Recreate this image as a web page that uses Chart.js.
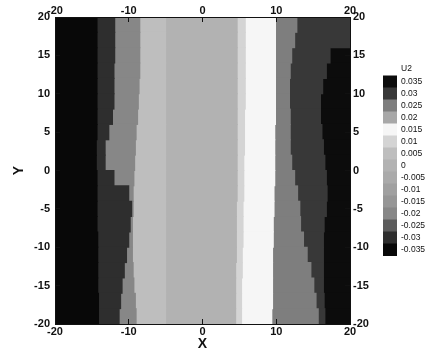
<!DOCTYPE html>
<html>
<head>
<meta charset="utf-8">
<title>U2 contour</title>
<script src="https://cdn.jsdelivr.net/npm/chart.js@4.4.1/dist/chart.umd.min.js"></script>
<style>
  html, body { margin: 0; padding: 0; background: #fff; }
  #wrap { position: relative; width: 433px; height: 356px; overflow: hidden; }
  #plot { position: absolute; left: 0; top: 0; }
  #bar { position: absolute; left: 376px; top: 40px; }
</style>
</head>
<body>
<div id="wrap">
  <canvas id="plot" width="433" height="356"></canvas>
  <canvas id="bar" width="57" height="228"></canvas>
</div>
<script>
// contour levels of the legend, bottom to top
const levels = [-0.035, -0.03, -0.025, -0.02, -0.015, -0.01, -0.005, 0, 0.005, 0.01, 0.015, 0.02, 0.025, 0.03, 0.035];
const levelLabels = ['-0.035', '-0.03', '-0.025', '-0.02', '-0.015', '-0.01', '-0.005', '0', '0.005', '0.01', '0.015', '0.02', '0.025', '0.03', '0.035'];
const levelColors = ['#080808', '#2e2e2e', '#5c5c5c', '#878787', '#969696', '#a0a0a0', '#aaaaaa', '#b2b2b2', '#bebebe', '#d4d4d4', '#f6f6f6', '#a8a8a8', '#7e7e7e', '#383838', '#0c0c0c'];

const xTicks = [-20, -10, 0, 10, 20];
const yTicks = [-20, -15, -10, -5, 0, 5, 10, 15, 20];

// the field is read as horizontal strips, one every 2 units of Y
const rowY = [19, 17, 15, 13, 11, 9, 7, 5, 3, 1, -1, -3, -5, -7, -9, -11, -13, -15, -17, -19];
// U2 level of each band, from left to right
const bandLevels = [-0.035, -0.03, -0.02, 0.005, 0, 0.01, 0.015, 0.025, 0.03, 0.035];
// X where one band ends and the next one starts, one list per strip
const bandEdges = [
  [-14.3, -11.9, -8.5, -5.0, 4.7, 5.8, 9.9, 12.8, 20.0],
  [-14.3, -11.9, -8.5, -5.0, 4.7, 5.8, 9.9, 12.5, 20.0],
  [-14.3, -11.9, -8.5, -5.0, 4.7, 5.8, 9.9, 12.1, 17.3],
  [-14.3, -12.0, -8.5, -5.0, 4.7, 5.8, 9.9, 11.9, 16.8],
  [-14.3, -12.0, -8.6, -5.0, 4.7, 5.8, 9.9, 11.8, 16.3],
  [-14.3, -12.0, -8.7, -5.0, 4.7, 5.8, 9.9, 11.8, 16.0],
  [-14.3, -12.2, -8.8, -5.0, 4.7, 5.7, 9.9, 11.9, 16.0],
  [-14.3, -12.7, -9.0, -5.0, 4.7, 5.7, 9.8, 11.9, 16.2],
  [-14.4, -13.2, -9.1, -5.0, 4.7, 5.7, 9.8, 11.9, 16.4],
  [-14.4, -13.2, -9.2, -5.0, 4.7, 5.6, 9.8, 12.1, 16.6],
  [-14.3, -12.0, -9.3, -5.0, 4.7, 5.6, 9.8, 12.5, 16.8],
  [-14.3, -10.0, -9.4, -5.0, 4.7, 5.6, 9.7, 12.9, 16.9],
  [-14.3, -9.6, -9.4, -5.0, 4.6, 5.5, 9.7, 13.2, 16.8],
  [-14.3, -9.8, -9.5, -5.0, 4.6, 5.5, 9.6, 13.3, 16.5],
  [-14.2, -10.0, -9.5, -5.0, 4.6, 5.5, 9.6, 13.7, 16.4],
  [-14.2, -10.3, -9.5, -5.0, 4.6, 5.4, 9.5, 14.2, 16.4],
  [-14.2, -10.6, -9.4, -5.0, 4.5, 5.4, 9.5, 14.7, 16.4],
  [-14.2, -10.9, -9.3, -5.0, 4.5, 5.3, 9.5, 15.1, 16.4],
  [-14.1, -11.1, -9.1, -5.0, 4.5, 5.3, 9.5, 15.4, 16.5],
  [-14.1, -11.3, -9.0, -5.0, 4.5, 5.3, 9.4, 15.7, 16.6]
];

const ink = '#111';
const tickFont = { family: "'Liberation Sans', Arial, sans-serif", size: 11, weight: 'bold' };
const titleFont = { family: "'Liberation Sans', Arial, sans-serif", size: 14, weight: 'bold' };
const legendFont = { family: "'Liberation Sans', Arial, sans-serif", size: 8.5 };

function colorOf(level) {
    return levelColors[levels.indexOf(level)];
}

// each band becomes one dataset of floating horizontal bars, one bar per strip
const bandSets = bandLevels.map(function (level, b) {
    return {
        label: 'U2 ' + level,
        xAxisID: 'x',
        yAxisID: 'y',
        data: rowY.map(function (y, r) {
            const edges = [-20].concat(bandEdges[r], [20]);
            return { y: y, x: [edges[b], edges[b + 1]] };
        }),
        backgroundColor: colorOf(level),
        borderWidth: 0,
        inflateAmount: 0.5,
        grouped: false,
        barPercentage: 1,
        categoryPercentage: 1
    };
});

// fixed box sizes so the plot frame lands where it is in the picture
function fixSize(horizontal, size) {
    return function (scale) {
        if (horizontal) scale.height = size; else scale.width = size;
    };
}

function axis(position, tickValues, size, pad, extra) {
    const horizontal = position === 'top' || position === 'bottom';
    return Object.assign({
        type: 'linear',
        axis: horizontal ? 'x' : 'y',
        position: position,
        offset: false,
        min: -20,
        max: 20,
        afterBuildTicks: function (scale) {
            scale.ticks = tickValues.map(v => ({ value: v }));
        },
        afterFit: fixSize(horizontal, size),
        ticks: {
            font: tickFont,
            color: ink,
            padding: pad,
            autoSkip: false,
            maxRotation: 0,
            callback: v => String(v)
        },
        grid: { display: true, offset: false, drawOnChartArea: false, tickLength: -5, color: ink, lineWidth: 1, z: 1 },
        border: { display: true, color: ink, width: 1, z: 1 }
    }, extra);
}

new Chart(document.getElementById('plot'), {
    type: 'bar',
    data: { datasets: bandSets },
    options: {
        indexAxis: 'y',
        responsive: false,
        animation: false,
        devicePixelRatio: 1,
        layout: { padding: 0 },
        plugins: {
            legend: { display: false },
            tooltip: { enabled: false }
        },
        scales: {
            x: axis('bottom', xTicks, 32, 6, {
                title: { display: true, text: 'X', font: titleFont, color: ink, padding: { top: 0, bottom: 3 } }
            }),
            y: axis('left', yTicks, 55, 10, {
                title: { display: true, text: 'Y', font: titleFont, color: ink, padding: { top: 11, bottom: 0 } }
            }),
            x2: axis('top', xTicks, 17, 4, {}),
            y2: axis('right', yTicks, 83, 8, {})
        }
    }
});

// colour legend: one box per level, labels on its right, title on top
const legendTitleAt = 15.6;
new Chart(document.getElementById('bar'), {
    type: 'bar',
    data: {
        labels: ['U2'],
        datasets: levels.map(function (level, i) {
            return {
                label: levelLabels[i],
                data: [[i, i + 1]],
                backgroundColor: levelColors[i],
                borderWidth: 0,
                inflateAmount: 0.5,
                grouped: false,
                barPercentage: 1,
                categoryPercentage: 1
            };
        })
    },
    options: {
        responsive: false,
        animation: false,
        devicePixelRatio: 1,
        layout: { padding: { left: 7, right: 0, top: 12, bottom: 12 } },
        plugins: {
            legend: { display: false },
            tooltip: { enabled: false }
        },
        scales: {
            x: { display: false },
            y: {
                type: 'linear',
                position: 'right',
                min: 0,
                max: 17,
                afterBuildTicks: function (scale) {
                    scale.ticks = levels.map((v, i) => ({ value: i + 0.5 })).concat([{ value: legendTitleAt }]);
                },
                afterFit: fixSize(false, 36),
                ticks: {
                    font: legendFont,
                    color: ink,
                    padding: 4,
                    autoSkip: false,
                    callback: (v, i) => i < levelLabels.length ? levelLabels[i] : 'U2'
                },
                grid: { display: false, drawTicks: false, tickLength: 0 },
                border: { display: false }
            }
        }
    }
});
</script>
</body>
</html>
